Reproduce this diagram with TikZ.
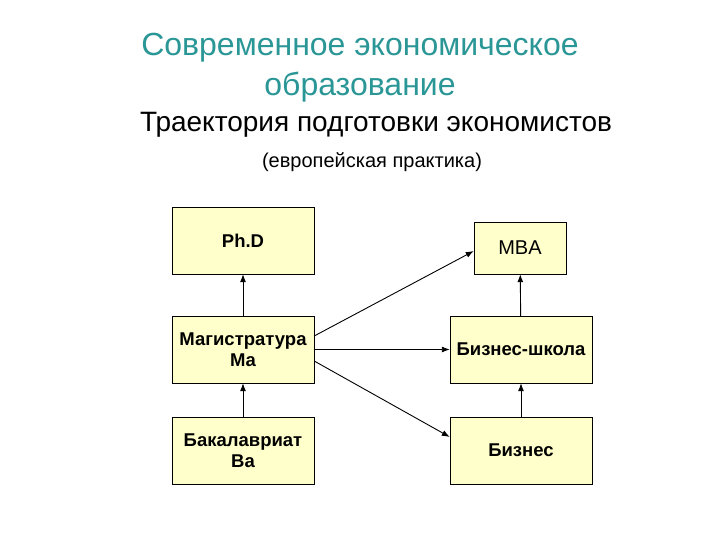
\documentclass[tikz,border=0pt]{standalone}
\usepackage{fontspec}
\usetikzlibrary{arrows.meta}
\setmainfont{Liberation Sans}
\begin{document}
\begin{tikzpicture}[x=1pt,y=-1pt,
 box/.style={draw=black,fill={rgb,255:red,255;green,255;blue,204},inner sep=0pt,align=center,font=\bfseries\fontsize{18.5}{21}\selectfont},
 arr/.style={-{Latex[length=8pt,width=6pt]},line width=0.9pt}]
\useasboundingbox (0,0) rectangle (720,540);
\definecolor{tl}{RGB}{42,150,150}
\node[text=tl,font=\fontsize{32}{40}\selectfont,align=center] (t) at (360,68) {Современное экономическое\\образование};
\node[font=\fontsize{28}{30}\selectfont] (s) at (376,125) {Траектория подготовки экономистов};
\node[font=\fontsize{20}{22}\selectfont] (p) at (372,162) {(европейская практика)};
\node[box,minimum width=142pt,minimum height=67pt] (phd) at (243,240.5) {Ph.D};
\node[box,minimum width=142pt,minimum height=67pt] (ma) at (243,349.5) {Магистратура\\Ма};
\node[box,minimum width=142pt,minimum height=67pt] (ba) at (243,450.5) {Бакалавриат\\Ва};
\node[box,minimum width=92pt,minimum height=52pt,font=\fontsize{20}{22}\selectfont] (mba) at (520,248) {MBA};
\node[box,minimum width=142pt,minimum height=67pt] (bs) at (521,349.5) {Бизнес-школа};
\node[box,minimum width=142pt,minimum height=67pt] (bz) at (521,450.5) {Бизнес};
\draw[arr] (ba) -- (ma);
\draw[arr] (ma) -- (phd);
\draw[arr] (bz) -- (bs);
\draw[arr] (bs) -- (mba);
\draw[arr] (ma.east|-0,336) -- (mba.west|-0,251);
\draw[arr] (ma) -- (bs);
\draw[arr] (ma.east|-0,361) -- (bz.west|-0,437);
\end{tikzpicture}
\end{document}
